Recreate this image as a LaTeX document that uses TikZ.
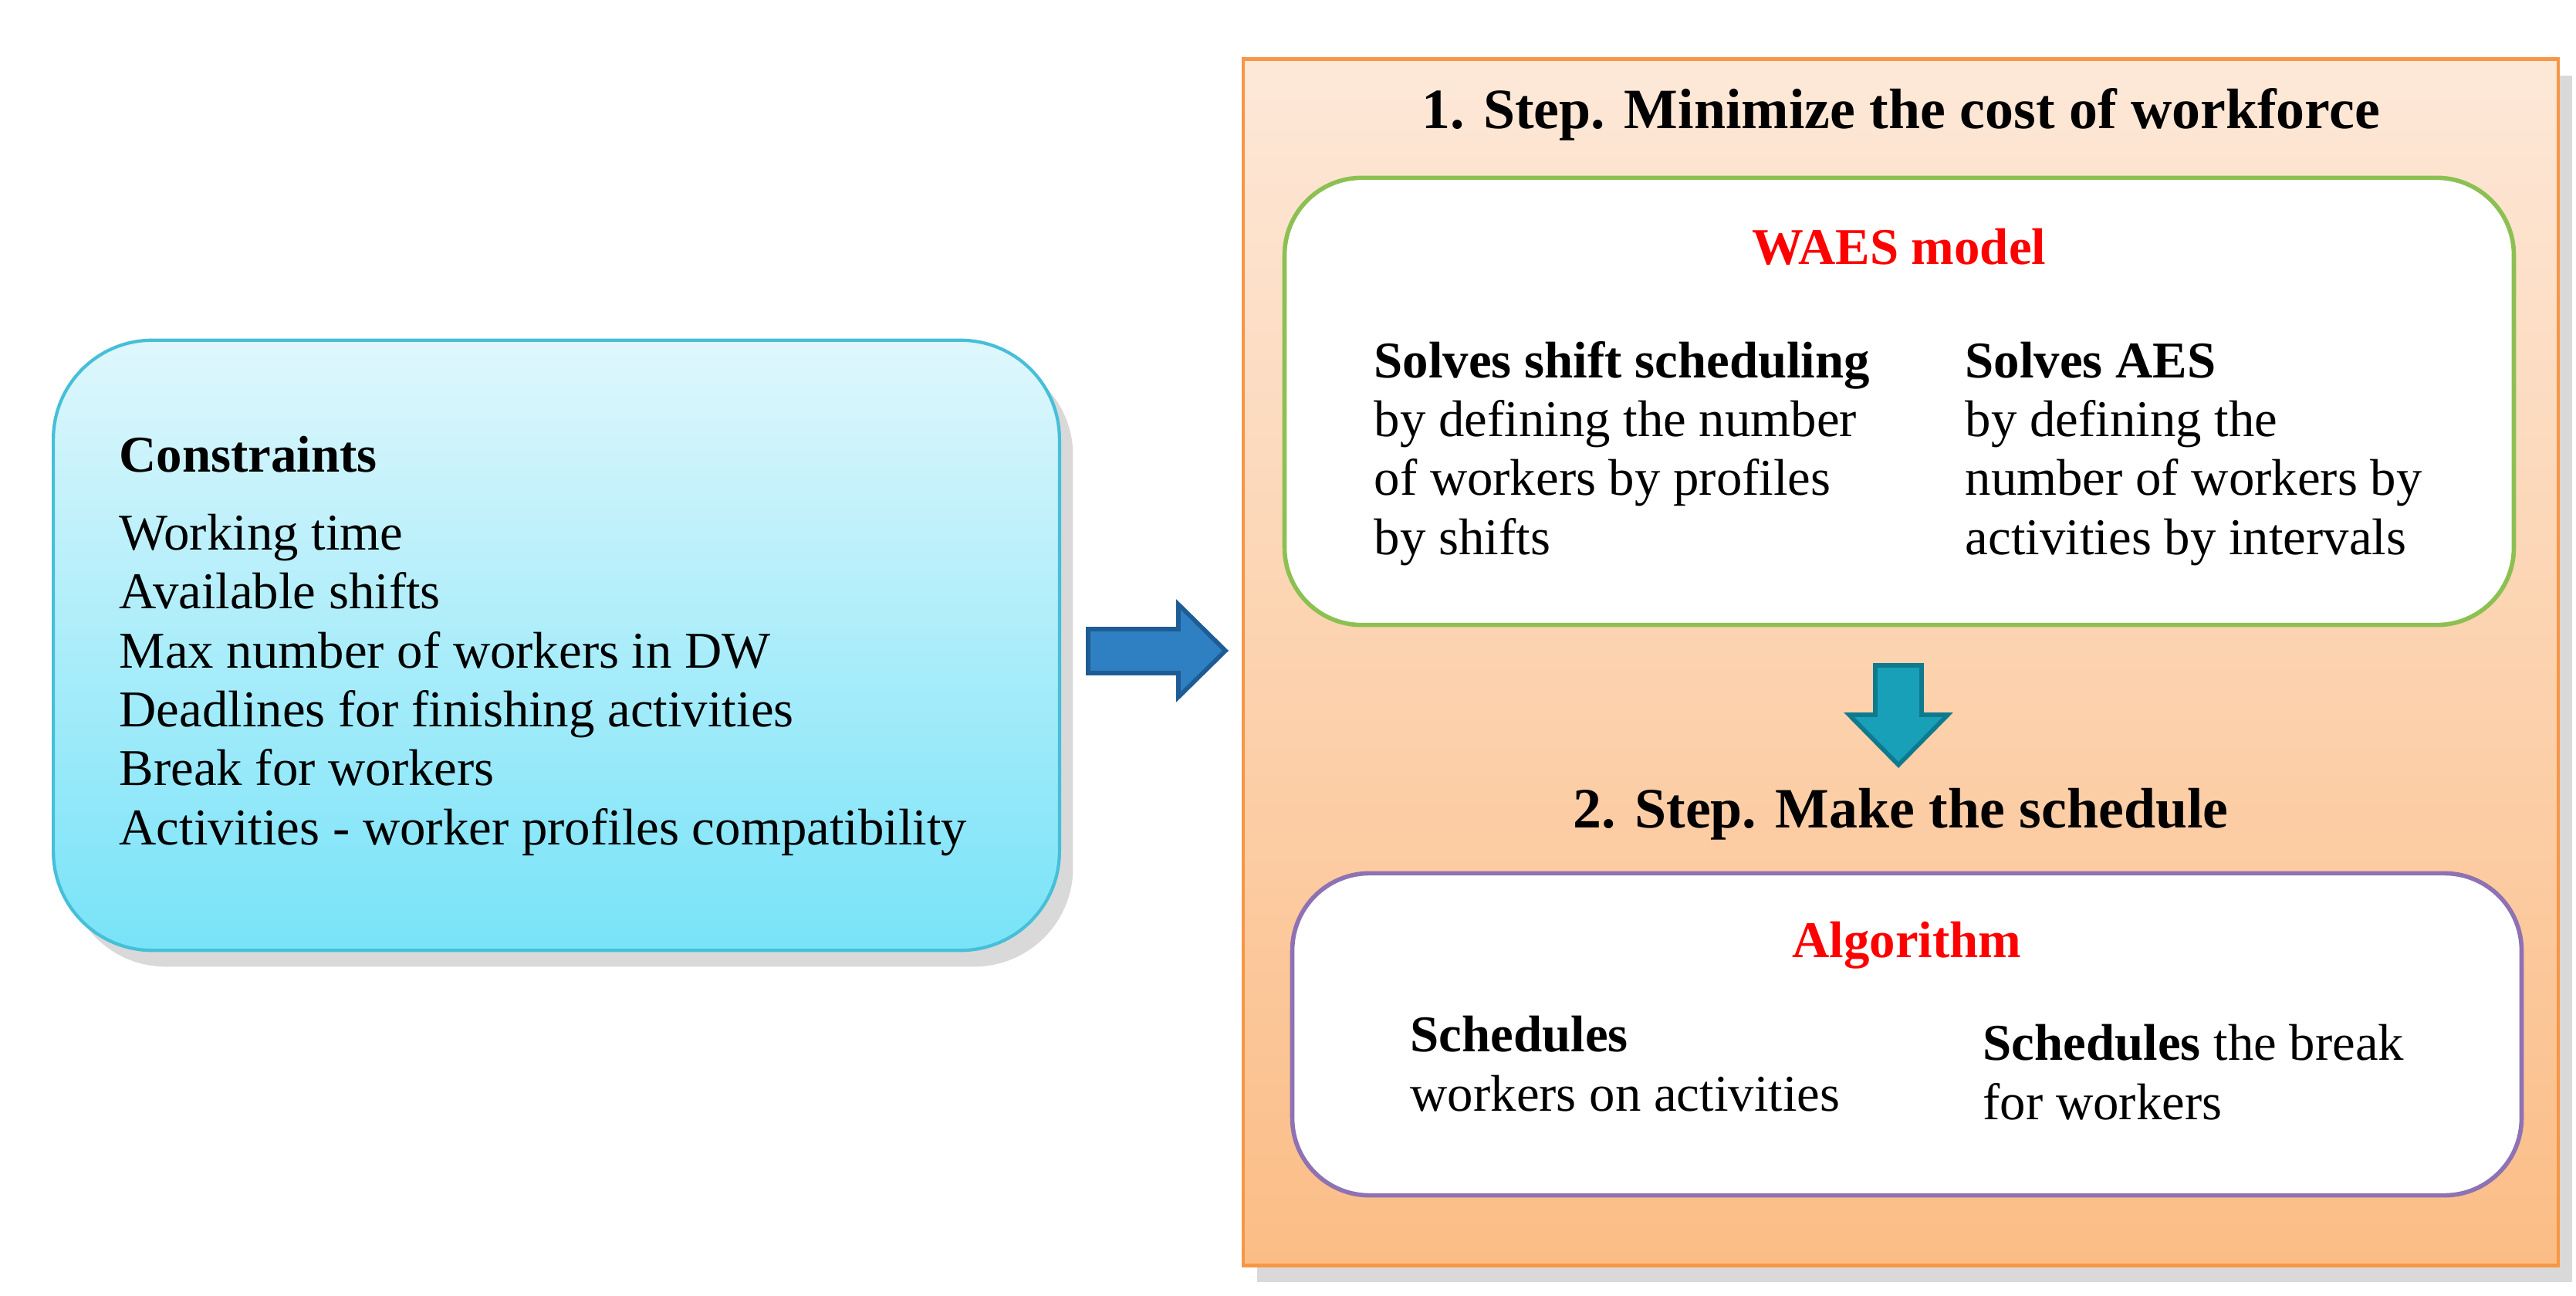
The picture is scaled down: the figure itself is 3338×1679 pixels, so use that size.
\documentclass[tikz,border=0pt]{standalone}
\usepackage{fontspec}
\setmainfont{Liberation Serif}
\usetikzlibrary{shadows}

\definecolor{constop}{HTML}{DFF7FC}
\definecolor{consbot}{HTML}{78E3F8}
\definecolor{consline}{HTML}{46BFD8}
\definecolor{steptop}{HTML}{FDE8D8}
\definecolor{stepbot}{HTML}{FBBD86}
\definecolor{stepline}{HTML}{F79646}
\definecolor{waesline}{HTML}{8DC052}
\definecolor{algoline}{HTML}{8E72B4}
\definecolor{blueflow}{HTML}{2E80C2}
\definecolor{blueedge}{HTML}{1D5C94}
\definecolor{tealflow}{HTML}{18A0B8}
\definecolor{tealedge}{HTML}{0F7A8E}

\begin{document}
\begin{tikzpicture}[x=0.01cm,y=-0.01cm,
    every node/.style={inner sep=0pt,font=\fontsize{19}{21.7}\selectfont},
    txt/.style={anchor=base west,align=left},
    heading/.style={anchor=base,font=\fontsize{21}{24}\selectfont\bfseries},
    redlbl/.style={anchor=base,text=red,font=\fontsize{19}{22}\selectfont\bfseries},
    consbox/.style={rectangle,rounded corners=1.28cm,draw=consline,line width=1.2pt,
        top color=constop,bottom color=consbot,
        drop shadow={shadow xshift=5pt,shadow yshift=-6pt,opacity=.3}},
    stepbox/.style={rectangle,draw=stepline,line width=1.2pt,
        top color=steptop,bottom color=stepbot,
        drop shadow={shadow xshift=5pt,shadow yshift=-6pt,opacity=.3}},
    innerbox/.style={rectangle,rounded corners=1cm,line width=1.6pt,fill=white},
    flowarrow/.style={line width=1.6pt,line join=miter}]
\useasboundingbox (0,0) rectangle (3338,1679);

% left: constraints (base = baseline of the last line)
\node[consbox,minimum width=13.03cm,minimum height=7.9cm] (cons) at (721,836) {};
\node[txt] (constxt) at (154,1094) {\textbf{Constraints}\\[7pt]
    Working time\\Available shifts\\Max number of workers in DW\\
    Deadlines for finishing activities\\Break for workers\\
    Activities - worker profiles compatibility};

% right: the two steps
\node[stepbox,minimum width=17.03cm,minimum height=15.62cm] (step) at (2463,858) {};
\node[heading] (step1) at (2463,167) {1. Step. Minimize the cost of workforce};

\node[innerbox,draw=waesline,minimum width=15.92cm,minimum height=5.79cm] (waes) at (2461,520) {};
\node[redlbl] (waeslbl) at (2461,343) {WAES model};
\node[txt] (shifts) at (1780,718) {\textbf{Solves shift scheduling}\\by defining the number\\of workers by profiles\\by shifts};
\node[txt] (aes) at (2546,718) {\textbf{Solves AES}\\by defining the\\number of workers by\\activities by intervals};

\node[heading] (step2) at (2463,1072) {2. Step. Make the schedule};

\node[innerbox,draw=algoline,minimum width=15.92cm,minimum height=4.17cm] (algo) at (2471,1340) {};
\node[redlbl] (algolbl) at (2471,1240) {Algorithm};
\node[txt] (sched) at (1827,1439) {\textbf{Schedules}\\workers on activities};
\node[txt] (brk) at (2569,1450) {\textbf{Schedules} the break\\for workers};

% block arrows
\coordinate (r0) at (1410,843);
\draw[flowarrow,fill=blueflow,draw=blueedge] (r0) ++(0,-28) -- ++(117,0) -- ++(0,-32)
    -- ++(61,60) -- ++(-61,60) -- ++(0,-31) -- ++(-117,0) -- cycle;
\coordinate (d0) at (2460,862);
\draw[flowarrow,fill=tealflow,draw=tealedge] (d0) ++(-30,0) -- ++(60,0) -- ++(0,64)
    -- ++(34,0) -- ++(-64,65) -- ++(-64,-65) -- ++(34,0) -- cycle;
\end{tikzpicture}
\end{document}
